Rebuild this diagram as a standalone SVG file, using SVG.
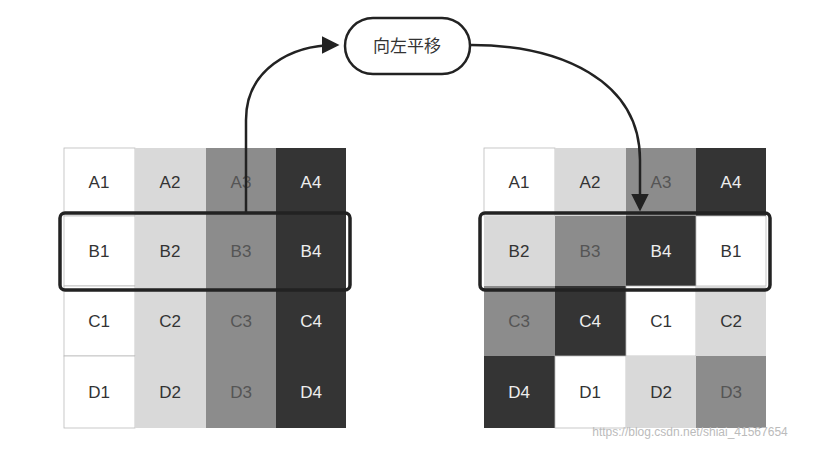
<svg xmlns="http://www.w3.org/2000/svg" width="831" height="450" viewBox="0 0 831 450">
<style>
.w{fill:#ffffff}.l{fill:#d9d9d9}.m{fill:#8c8c8c}.d{fill:#343434}
.c{stroke:#bbb;stroke-width:0.8}
text{font-family:"Liberation Sans","Noto Sans CJK SC",sans-serif;font-size:17px;text-anchor:middle;dominant-baseline:central}
.tl{fill:#333}.tm{fill:#555}.td{fill:#eee}
.hl{fill:none;stroke:#222;stroke-width:3.5}
.ar{fill:none;stroke:#222;stroke-width:2.5}
</style>
<defs><marker id="ah" viewBox="0 0 10 10" refX="8" refY="5" markerWidth="7" markerHeight="7" orient="auto"><path d="M0,0L10,5L0,10z" fill="#222"/></marker></defs>
<rect width="831" height="450" fill="#fff"/>
<g id="left">
<rect x="64" y="148" width="71" height="68" class="w c"/><text x="99" y="182" class="tl">A1</text>
<rect x="135" y="148" width="71" height="68" class="l"/><text x="170" y="182" class="tl">A2</text>
<rect x="206" y="148" width="70" height="68" class="m"/><text x="241" y="182" class="tm">A3</text>
<rect x="276" y="148" width="70" height="68" class="d"/><text x="311" y="182" class="td">A4</text>
<rect x="64" y="216" width="71" height="70" class="w c"/><text x="99" y="251" class="tl">B1</text>
<rect x="135" y="216" width="71" height="70" class="l"/><text x="170" y="251" class="tl">B2</text>
<rect x="206" y="216" width="70" height="70" class="m"/><text x="241" y="251" class="tm">B3</text>
<rect x="276" y="216" width="70" height="70" class="d"/><text x="311" y="251" class="td">B4</text>
<rect x="64" y="286" width="71" height="70" class="w c"/><text x="99" y="321" class="tl">C1</text>
<rect x="135" y="286" width="71" height="70" class="l"/><text x="170" y="321" class="tl">C2</text>
<rect x="206" y="286" width="70" height="70" class="m"/><text x="241" y="321" class="tm">C3</text>
<rect x="276" y="286" width="70" height="70" class="d"/><text x="311" y="321" class="td">C4</text>
<rect x="64" y="356" width="71" height="72" class="w c"/><text x="99" y="392" class="tl">D1</text>
<rect x="135" y="356" width="71" height="72" class="l"/><text x="170" y="392" class="tl">D2</text>
<rect x="206" y="356" width="70" height="72" class="m"/><text x="241" y="392" class="tm">D3</text>
<rect x="276" y="356" width="70" height="72" class="d"/><text x="311" y="392" class="td">D4</text>
<rect x="60" y="213" width="290" height="77" rx="5" class="hl"/>
</g>
<g id="right">
<rect x="484" y="148" width="71" height="68" class="w c"/><text x="519" y="182" class="tl">A1</text>
<rect x="555" y="148" width="71" height="68" class="l"/><text x="590" y="182" class="tl">A2</text>
<rect x="626" y="148" width="70" height="68" class="m"/><text x="661" y="182" class="tm">A3</text>
<rect x="696" y="148" width="70" height="68" class="d"/><text x="731" y="182" class="td">A4</text>
<rect x="484" y="216" width="71" height="70" class="l"/><text x="519" y="251" class="tl">B2</text>
<rect x="555" y="216" width="71" height="70" class="m"/><text x="590" y="251" class="tm">B3</text>
<rect x="626" y="216" width="70" height="70" class="d"/><text x="661" y="251" class="td">B4</text>
<rect x="696" y="216" width="70" height="70" class="w c"/><text x="731" y="251" class="tl">B1</text>
<rect x="484" y="286" width="71" height="70" class="m"/><text x="519" y="321" class="tm">C3</text>
<rect x="555" y="286" width="71" height="70" class="d"/><text x="590" y="321" class="td">C4</text>
<rect x="626" y="286" width="70" height="70" class="w c"/><text x="661" y="321" class="tl">C1</text>
<rect x="696" y="286" width="70" height="70" class="l"/><text x="731" y="321" class="tl">C2</text>
<rect x="484" y="356" width="71" height="72" class="d"/><text x="519" y="392" class="td">D4</text>
<rect x="555" y="356" width="71" height="72" class="w c"/><text x="590" y="392" class="tl">D1</text>
<rect x="626" y="356" width="70" height="72" class="l"/><text x="661" y="392" class="tl">D2</text>
<rect x="696" y="356" width="70" height="72" class="m"/><text x="731" y="392" class="tm">D3</text>
<rect x="480" y="213" width="290" height="77" rx="5" class="hl"/>
</g>
<g id="label">
<rect x="345" y="18" width="125" height="56" rx="28" fill="#fff" stroke="#222" stroke-width="2.5"/>
<text x="407" y="46" class="tl">向左平移</text>
</g>
<g id="connectors">
<path d="M246,212 L246,120 C246,70 290,45 336,45" class="ar" marker-end="url(#ah)"/>
<path d="M471,45 C560,45 640,80 640,160 L640,208" class="ar" marker-end="url(#ah)"/>
</g>
<text x="690" y="432" style="font-size:12px;fill:#bbb">https://blog.csdn.net/shiai_41567654</text>
</svg>
